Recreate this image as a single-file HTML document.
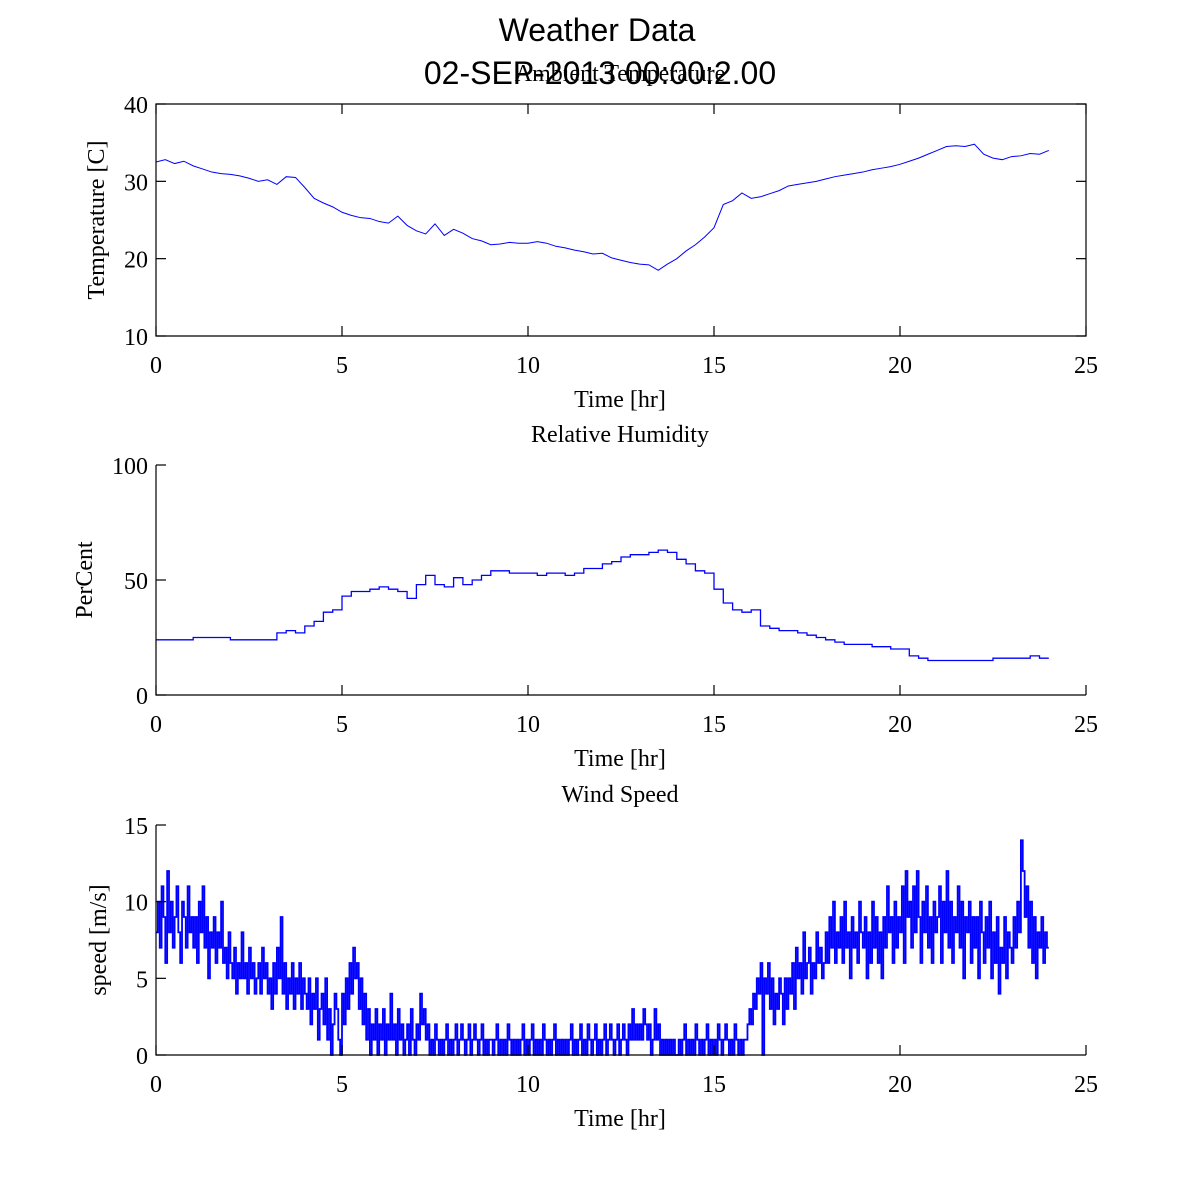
<!DOCTYPE html>
<html><head><meta charset="utf-8"><style>
html,body{margin:0;padding:0;background:#fff;}
svg{display:block;}
.ser{font-family:"Liberation Serif",serif;}
.san{font-family:"Liberation Sans",sans-serif;}
</style></head><body>
<svg id="chart" width="1200" height="1200" viewBox="0 0 1200 1200">
<text class="san" x="597" y="41" font-size="32" text-anchor="middle">Weather Data</text>
<text class="san" x="600" y="84" font-size="32" text-anchor="middle">02-SEP-2013 00:00:2.00</text>
</svg>
<script>
const xTicks=[0,5,10,15,20,25];
const tempTicks=[10,20,30,40];
const humTicks=[0,50,100];
const windTicks=[0,5,10,15];
const tempVals=[32.5,32.8,32.3,32.6,32.0,31.6,31.2,31.0,30.9,30.7,30.4,30.0,30.2,29.6,30.6,30.5,29.2,27.8,27.2,26.7,26.0,25.6,25.3,25.2,24.8,24.6,25.5,24.3,23.6,23.2,24.5,23.0,23.8,23.3,22.6,22.3,21.8,21.9,22.1,22.0,22.0,22.2,22.0,21.6,21.4,21.1,20.9,20.6,20.7,20.1,19.8,19.5,19.3,19.2,18.5,19.3,20.0,21.0,21.8,22.8,24.0,27.0,27.5,28.5,27.8,28.0,28.4,28.8,29.4,29.6,29.8,30.0,30.3,30.6,30.8,31.0,31.2,31.5,31.7,31.9,32.2,32.6,33.0,33.5,34.0,34.5,34.6,34.5,34.8,33.5,33.0,32.8,33.2,33.3,33.6,33.5,34.0];
const humVals=[24,24,24,24,25,25,25,25,24,24,24,24,24,27,28,27,30,32,36,37,43,45,45,46,47,46,45,42,48,52,48,47,51,48,50,52,54,54,53,53,53,52,53,53,52,53,55,55,57,58,60,61,61,62,63,62,59,57,54,53,46,40,37,36,37,30,29,28,28,27,26,25,24,23,22,22,22,21,21,20,20,17,16,15,15,15,15,15,15,15,16,16,16,16,17,16,16];
const windVals=[8,10,7,11,9,6,12,8,10,7,9,11,8,6,10,9,7,11,8,9,
7,9,6,10,8,11,7,9,5,8,7,9,6,8,7,10,6,7,5,8,
6,5,7,4,6,5,8,5,6,4,7,5,6,4,5,6,4,7,5,6,
4,5,3,6,4,7,5,9,4,6,3,5,4,6,3,5,4,6,3,5,
4,3,5,2,4,3,5,1,3,4,2,5,1,3,0,2,4,3,1,0,
4,2,5,3,6,4,7,5,6,3,5,2,4,1,3,0,2,1,3,0,
2,1,3,0,2,1,4,1,2,0,3,1,2,0,1,2,0,3,1,0,
2,1,4,2,3,1,2,0,1,0,2,1,0,1,0,1,2,0,1,0,
1,2,0,1,2,1,0,1,2,0,1,2,1,0,1,2,0,1,0,1,
1,0,1,2,0,1,0,1,0,2,1,0,1,0,1,0,1,2,0,1,
0,1,2,0,1,0,1,0,2,1,0,1,0,1,2,0,1,0,1,0,
1,0,1,2,0,1,0,1,2,0,1,0,2,1,0,1,2,0,1,0,
1,2,0,1,2,1,0,1,2,0,1,2,1,0,2,1,3,1,2,1,
2,1,3,2,1,2,0,1,3,1,2,0,1,0,1,0,1,0,1,0,
0,1,0,1,2,0,1,0,1,0,2,1,0,1,0,1,2,0,1,0,
1,0,2,1,0,1,2,1,0,1,0,2,1,0,1,0,1,1,2,3,
2,4,3,5,4,6,0,5,4,6,3,5,2,4,3,5,4,2,5,3,
5,4,6,3,7,5,6,4,8,5,6,7,4,6,5,8,6,7,5,6,
8,6,9,7,10,6,8,7,9,6,10,7,8,5,9,7,8,6,10,8,
7,9,5,8,6,10,7,9,6,8,5,9,7,11,8,9,6,10,7,9,
8,11,6,12,9,10,7,11,8,12,9,6,10,8,11,7,9,6,10,8,
9,11,6,10,8,12,7,10,6,9,8,11,7,10,5,9,8,10,6,9,
7,9,5,10,8,6,9,7,10,5,8,6,9,4,7,6,9,5,8,7,
6,9,7,10,8,14,12,9,11,7,10,6,9,5,8,7,9,6,8,7,7];

const NS='http://www.w3.org/2000/svg';
const svg=document.getElementById('chart');
function mk(tag,attrs,parent){const e=document.createElementNS(NS,tag);for(const k in attrs)e.setAttribute(k,attrs[k]);(parent||svg).appendChild(e);return e;}
const X0=156,X1=1086;
function xs(t){return X0+(t/25)*(X1-X0);}

function panel(cfg){
  const g=mk('g',{});
  
  
  const ys=v=>cfg.bot-(v-cfg.min)/(cfg.max-cfg.min)*(cfg.bot-cfg.top);
  let d='';
  cfg.vals.forEach((v,i)=>{
    const x=xs(i*cfg.dt),y=ys(v);
    if(i===0)d+='M'+x+' '+y;
    else if(cfg.step)d+='H'+x+'V'+y;
    else d+='L'+x+' '+y;
  });
  const p=mk('path',{d:d,fill:'none',stroke:'#0000ff','stroke-width':cfg.sw},g);
  
  
  const ax=mk('path',{d:cfg.box?`M${X0} ${cfg.top}H${X1}V${cfg.bot}H${X0}Z`:`M${X0} ${cfg.top}V${cfg.bot}H${X1}`,fill:'none',stroke:'#000','stroke-width':1.2},g);
  
  
  xTicks.forEach(t=>{
    const x=xs(t);
    mk('line',{x1:x,x2:x,y1:cfg.bot,y2:cfg.bot-10,stroke:'#000','stroke-width':1.2},g);
    if(cfg.box)mk('line',{x1:x,x2:x,y1:cfg.top,y2:cfg.top+10,stroke:'#000','stroke-width':1.2},g);
    const tl=mk('text',{x:x,y:cfg.bot+37,'font-size':24,'text-anchor':'middle',class:'ser'},g);
    tl.textContent=t;
    
    
  });
  cfg.ticks.forEach(v=>{
    const y=ys(v);
    mk('line',{x1:X0,x2:X0+10,y1:y,y2:y,stroke:'#000','stroke-width':1.2},g);
    if(cfg.box)mk('line',{x1:X1,x2:X1-10,y1:y,y2:y,stroke:'#000','stroke-width':1.2},g);
    const tl=mk('text',{x:X0-8,y:y+9,'font-size':24,'text-anchor':'end',class:'ser'},g);
    tl.textContent=v;
    
    
  });
  const xt=mk('text',{x:620,y:cfg.bot+71,'font-size':24,'text-anchor':'middle',class:'ser'},g);
  xt.textContent='Time [hr]';
  
  
  const cy=(cfg.top+cfg.bot)/2;
  const yt=mk('text',{x:cfg.ylx,y:cy,'font-size':24,'text-anchor':'middle',class:'ser',transform:`rotate(-90 ${cfg.ylx} ${cy})`},g);
  yt.textContent=cfg.ylabel;
  
  
  const tt=mk('text',{x:620,y:cfg.top-23,'font-size':24,'text-anchor':'middle',class:'ser'},g);
  tt.textContent=cfg.title;
  
  
}
panel({name:'temperature-panel',top:104,bot:336,min:10,max:40,ticks:tempTicks,vals:tempVals,dt:0.25,step:false,sw:1,box:true,ylabel:'Temperature [C]',ylx:104,title:'Ambient Temperature'});
panel({name:'humidity-panel',top:465,bot:695,min:0,max:100,ticks:humTicks,vals:humVals,dt:0.25,step:true,sw:1.3,box:false,ylabel:'PerCent',ylx:92,title:'Relative Humidity'});
panel({name:'wind-panel',top:825,bot:1055,min:0,max:15,ticks:windTicks,vals:windVals,dt:0.05,step:true,sw:1.8,box:false,ylabel:'speed [m/s]',ylx:106,title:'Wind Speed'});
</script>
</body></html>
